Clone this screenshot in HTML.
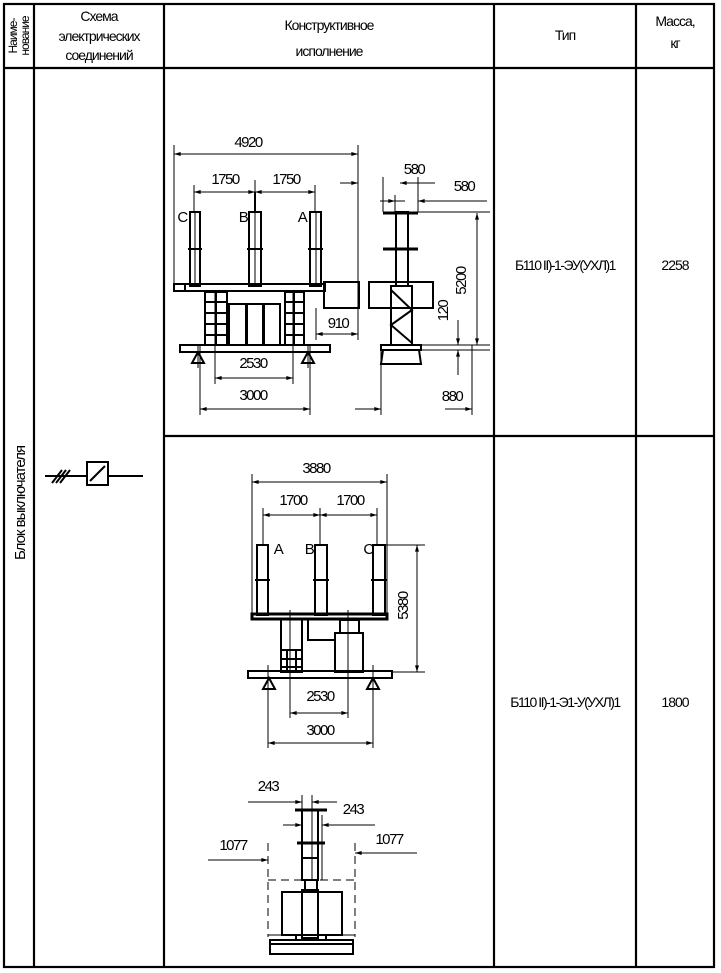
<!DOCTYPE html>
<html><head><meta charset="utf-8"><style>
html,body{margin:0;padding:0;background:#fff;}
svg{display:block;}
text{font-family:"Liberation Sans",sans-serif;fill:#000;}
</style></head><body>
<svg width="721" height="973" viewBox="0 0 721 973" xmlns="http://www.w3.org/2000/svg">
<defs>
<marker id="a" viewBox="0 0 10 6" refX="10" refY="3" markerWidth="8" markerHeight="4" orient="auto-start-reverse" markerUnits="userSpaceOnUse"><path d="M0,0 L10,3 L0,6 Z" fill="#000"/></marker>
</defs>
<g stroke="#000" stroke-width="2.2" fill="none">
<rect x="4" y="4" width="710" height="963"/>
<line x1="4" y1="68" x2="714" y2="68"/>
<line x1="34" y1="4" x2="34" y2="967"/>
<line x1="164" y1="4" x2="164" y2="967"/>
<line x1="494" y1="4" x2="494" y2="967"/>
<line x1="636" y1="4" x2="636" y2="967"/>
<line x1="164" y1="436" x2="714" y2="436"/>
</g>
<g font-size="14" text-anchor="middle" letter-spacing="-1">
<text transform="translate(17,36) rotate(-90)" font-size="12">Наиме-</text>
<text transform="translate(29,36) rotate(-90)" font-size="12">нование</text>
<text x="99" y="21">Схема</text>
<text x="99" y="41">электрических</text>
<text x="99" y="60">соединений</text>
<text x="329" y="30">Конструктивное</text>
<text x="329" y="56">исполнение</text>
<text x="565" y="40">Тип</text>
<text x="675" y="26">Масса,</text>
<text x="675" y="48">кг</text>
<text transform="translate(25,503) rotate(-90)" font-size="15">Блок выключателя</text>
<text x="565" y="270" font-size="14" letter-spacing="-1.5">Б110 II)-1-ЭУ(УХЛ)1</text>
<text x="675" y="270">2258</text>
<text x="565" y="707" font-size="14" letter-spacing="-1.5">Б110 II)-1-Э1-У(УХЛ)1</text>
<text x="675" y="707">1800</text>
</g>
<g stroke="#000" stroke-width="2" fill="none">
<line x1="45" y1="476" x2="87" y2="476"/>
<line x1="108" y1="476" x2="143" y2="476"/>
<rect x="87" y="462" width="21" height="23"/>
<line x1="90" y1="481" x2="105" y2="466"/>
<line x1="52" y1="483" x2="62" y2="470"/>
<line x1="56" y1="483" x2="66" y2="470"/>
<line x1="60" y1="483" x2="70" y2="470"/>
</g>

<g stroke="#000" stroke-width="1" fill="none">
<line x1="174" y1="145" x2="174" y2="292"/>
<line x1="358" y1="145" x2="358" y2="340"/>
<line x1="194" y1="185" x2="194" y2="212"/>
<line x1="255" y1="180" x2="255" y2="212"/>
<line x1="315" y1="185" x2="315" y2="212"/>
<line x1="200" y1="345" x2="200" y2="415"/>
<line x1="310" y1="345" x2="310" y2="415"/>
<line x1="215" y1="292" x2="215" y2="384"/>
<line x1="293" y1="292" x2="293" y2="384"/>
<line x1="316" y1="308" x2="316" y2="340"/>
<line x1="381" y1="350" x2="381" y2="415"/>
<line x1="472" y1="345" x2="472" y2="415"/>
<line x1="383" y1="177" x2="383" y2="212"/>
<line x1="395" y1="195" x2="395" y2="212"/>
<line x1="418" y1="177" x2="418" y2="212"/>
<line x1="418" y1="212" x2="490" y2="212"/>
<line x1="420" y1="345" x2="490" y2="345"/>
<line x1="420" y1="350" x2="490" y2="350"/>
<line x1="174" y1="154" x2="358" y2="154" marker-start="url(#a)" marker-end="url(#a)"/>
<line x1="194" y1="192" x2="255" y2="192" marker-start="url(#a)" marker-end="url(#a)"/>
<line x1="255" y1="192" x2="315" y2="192" marker-start="url(#a)" marker-end="url(#a)"/>
<line x1="215" y1="378" x2="293" y2="378" marker-start="url(#a)" marker-end="url(#a)"/>
<line x1="200" y1="409" x2="310" y2="409" marker-start="url(#a)" marker-end="url(#a)"/>
<line x1="316" y1="334" x2="358" y2="334" marker-start="url(#a)" marker-end="url(#a)"/>
<line x1="340" y1="183" x2="358" y2="183" marker-end="url(#a)"/>
<line x1="400" y1="183" x2="435" y2="183" marker-start="url(#a)"/>
<line x1="395" y1="201" x2="405" y2="201"/>
<line x1="395" y1="201" x2="380" y2="201" marker-start="url(#a)"/>
<line x1="418" y1="201" x2="487" y2="201" marker-start="url(#a)"/>
<line x1="477" y1="213" x2="477" y2="345" marker-start="url(#a)" marker-end="url(#a)"/>
<line x1="458" y1="320" x2="458" y2="345" marker-end="url(#a)"/>
<line x1="458" y1="350" x2="458" y2="375" marker-start="url(#a)"/>
<line x1="355" y1="409" x2="381" y2="409" marker-end="url(#a)"/>
<line x1="472" y1="409" x2="445" y2="409" marker-start="url(#a)"/>
</g>
<g stroke="#000" stroke-width="2" fill="none">
<rect x="190" y="212" width="10" height="74"/>
<rect x="249" y="212" width="12" height="74"/>
<rect x="310" y="212" width="11" height="74"/>
<line x1="255" y1="192" x2="255" y2="212"/>
<line x1="188" y1="249" x2="202" y2="249"/>
<line x1="247" y1="249" x2="263" y2="249"/>
<line x1="308" y1="249" x2="323" y2="249"/>
<line x1="195" y1="212" x2="195" y2="286" stroke-width="1"/>
<line x1="255" y1="212" x2="255" y2="286" stroke-width="1"/>
<line x1="316" y1="212" x2="316" y2="286" stroke-width="1"/>
<rect x="174" y="284" width="151" height="7"/>
<rect x="174" y="284" width="11" height="7"/>
<rect x="324" y="282" width="35" height="26"/>
<rect x="205" y="292" width="22" height="53"/>
<rect x="285" y="292" width="19" height="53"/>
<line x1="216" y1="292" x2="216" y2="345"/>
<line x1="294" y1="292" x2="294" y2="345"/>
<line x1="205" y1="302" x2="227" y2="302"/><line x1="205" y1="313" x2="227" y2="313"/><line x1="205" y1="324" x2="227" y2="324"/><line x1="205" y1="335" x2="227" y2="335"/>
<line x1="285" y1="302" x2="304" y2="302"/><line x1="285" y1="313" x2="304" y2="313"/><line x1="285" y1="324" x2="304" y2="324"/><line x1="285" y1="335" x2="304" y2="335"/>
<rect x="229" y="304" width="17" height="41"/>
<rect x="247" y="304" width="16" height="41"/>
<rect x="264" y="304" width="16" height="41"/>
<rect x="180" y="345" width="150" height="7"/>
<path d="M198,352 L192,363 L204,363 Z"/>
<path d="M308,352 L302,363 L314,363 Z"/>
<line x1="198" y1="345" x2="198" y2="368" stroke-width="1"/>
<line x1="308" y1="345" x2="308" y2="368" stroke-width="1"/>
<rect x="396" y="212" width="12" height="74"/>
<line x1="383" y1="213" x2="418" y2="213" stroke-width="3"/>
<line x1="383" y1="249" x2="418" y2="249" stroke-width="3"/>
<rect x="369" y="282" width="64" height="26"/>
<rect x="391" y="286" width="21" height="59"/>
<path d="M391,290 L412,310 L391,325 L412,343"/>
<rect x="381" y="345" width="40" height="5"/>
<path d="M383,350 L419,350 L421,364 L381,364 Z"/>
</g>
<g font-size="15" text-anchor="middle" letter-spacing="-1.5">
<text x="248" y="147">4920</text>
<text x="225" y="184">1750</text>
<text x="286" y="184">1750</text>
<text x="182" y="222">C</text>
<text x="243" y="222">B</text>
<text x="302" y="222">A</text>
<text x="338" y="328">910</text>
<text x="253" y="368">2530</text>
<text x="253" y="400">3000</text>
<text x="414" y="174">580</text>
<text x="464" y="191">580</text>
<text x="452" y="401">880</text>
<text transform="translate(466,281) rotate(-90)">5200</text>
<text transform="translate(448,311) rotate(-90)">120</text>
</g>

<g stroke="#000" stroke-width="1" fill="none">
<line x1="252" y1="474" x2="252" y2="614"/>
<line x1="387" y1="474" x2="387" y2="614"/>
<line x1="263" y1="508" x2="263" y2="545"/>
<line x1="320" y1="508" x2="320" y2="545"/>
<line x1="377" y1="508" x2="377" y2="545"/>
<line x1="384" y1="545" x2="425" y2="545"/>
<line x1="392" y1="672" x2="425" y2="672"/>
<line x1="290" y1="610" x2="290" y2="718"/>
<line x1="348" y1="610" x2="348" y2="718"/>
<line x1="268" y1="665" x2="268" y2="748"/>
<line x1="373" y1="665" x2="373" y2="748"/>
<line x1="252" y1="482" x2="387" y2="482" marker-start="url(#a)" marker-end="url(#a)"/>
<line x1="263" y1="515" x2="320" y2="515" marker-start="url(#a)" marker-end="url(#a)"/>
<line x1="320" y1="515" x2="377" y2="515" marker-start="url(#a)" marker-end="url(#a)"/>
<line x1="417" y1="545" x2="417" y2="672" marker-start="url(#a)" marker-end="url(#a)"/>
<line x1="290" y1="713" x2="348" y2="713" marker-start="url(#a)" marker-end="url(#a)"/>
<line x1="268" y1="743" x2="373" y2="743" marker-start="url(#a)" marker-end="url(#a)"/>
</g>
<g stroke="#000" stroke-width="2" fill="none">
<rect x="257" y="545" width="11" height="70"/>
<rect x="315" y="545" width="12" height="70"/>
<rect x="373" y="545" width="12" height="70"/>
<line x1="255" y1="580" x2="270" y2="580"/>
<line x1="313" y1="580" x2="329" y2="580"/>
<line x1="371" y1="580" x2="387" y2="580"/>
<rect x="252" y="614" width="135" height="5" stroke-width="3"/>
<rect x="281" y="619" width="21" height="53"/>
<line x1="281" y1="650" x2="302" y2="650"/><line x1="281" y1="659" x2="302" y2="659"/><line x1="281" y1="667" x2="302" y2="667"/>
<line x1="287" y1="650" x2="287" y2="672"/><line x1="296" y1="650" x2="296" y2="672"/>
<path d="M308,619 L308,640 L335,640"/>
<rect x="335" y="633" width="28" height="39"/>
<rect x="340" y="620" width="19" height="13"/>
<rect x="248" y="671" width="144" height="7"/>
<path d="M269,678 L263,689 L275,689 Z"/>
<path d="M373,678 L367,689 L379,689 Z"/>
</g>
<g font-size="15" text-anchor="middle" letter-spacing="-1.5">
<text x="316" y="473">3880</text>
<text x="293" y="505">1700</text>
<text x="350" y="505">1700</text>
<text x="278" y="554">A</text>
<text x="309" y="554">B</text>
<text x="368" y="554">C</text>
<text x="320" y="701">2530</text>
<text x="320" y="735">3000</text>
<text transform="translate(408,606) rotate(-90)">5380</text>
</g>

<g stroke="#000" stroke-width="1" fill="none">
<line x1="248" y1="802" x2="302" y2="802" marker-end="url(#a)"/>
<line x1="337" y1="802" x2="312" y2="802" marker-end="url(#a)"/>
<line x1="283" y1="825" x2="302" y2="825" marker-end="url(#a)"/>
<line x1="375" y1="825" x2="322" y2="825" marker-end="url(#a)"/>
<line x1="208" y1="860" x2="268" y2="860" marker-end="url(#a)"/>
<line x1="417" y1="853" x2="355" y2="853" marker-end="url(#a)"/>
<line x1="302" y1="795" x2="302" y2="880"/>
<line x1="312" y1="795" x2="312" y2="880"/>
<line x1="322" y1="815" x2="322" y2="880"/>
<line x1="268" y1="880" x2="355" y2="880" stroke-dasharray="8,5"/>
<line x1="268" y1="843" x2="268" y2="937" stroke-dasharray="8,5"/>
<line x1="355" y1="843" x2="355" y2="937" stroke-dasharray="8,5"/>
<line x1="268" y1="935" x2="355" y2="935"/>
</g>
<g stroke="#000" stroke-width="2" fill="none">
<rect x="302" y="810" width="16" height="70"/>
<line x1="295" y1="810" x2="327" y2="810" stroke-width="3"/>
<line x1="297" y1="843" x2="325" y2="843" stroke-width="3"/>
<line x1="302" y1="858" x2="318" y2="858"/>
<rect x="305" y="880" width="12" height="10"/>
<rect x="282" y="892" width="60" height="43"/>
<rect x="302" y="890" width="16" height="48"/>
<rect x="296" y="935" width="30" height="5"/>
<rect x="270" y="940" width="83" height="14"/>
<line x1="270" y1="944" x2="353" y2="944"/>
</g>
<g font-size="15" text-anchor="middle" letter-spacing="-1.5">
<text x="268" y="791">243</text>
<text x="353" y="814">243</text>
<text x="233" y="850">1077</text>
<text x="389" y="844">1077</text>
</g>
</svg>
</body></html>
